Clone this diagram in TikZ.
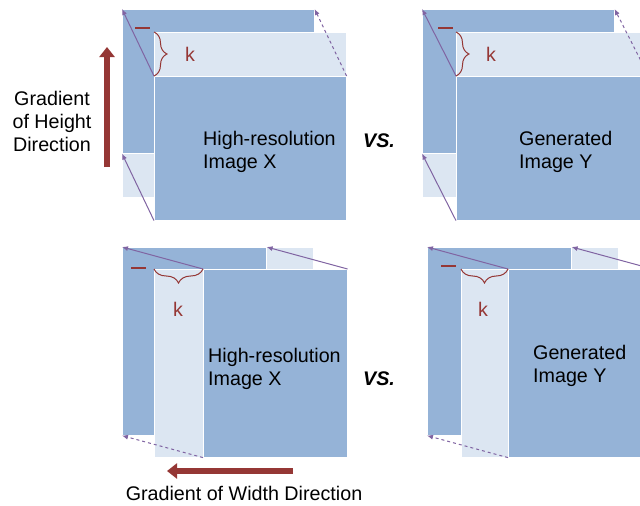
\documentclass[tikz,border=0pt]{standalone}
\usepackage{fontspec}
\setmainfont{Liberation Sans}
\usetikzlibrary{arrows.meta,decorations.pathreplacing}
\definecolor{imgblue}{RGB}{149,179,215}
\definecolor{imglight}{RGB}{220,230,242}
\definecolor{shiftpurple}{RGB}{128,100,162}
\definecolor{gradred}{RGB}{149,55,53}

\begin{document}
\begin{tikzpicture}[
    x=1pt, y=-1pt,
    every node/.style={font=\fontsize{19.7}{23}\selectfont},
    imgbox/.style={rectangle, anchor=north west, inner sep=0pt, draw=white, line width=0.6pt, fill=imgblue},
    shiftbox/.style={imgbox, fill=imglight},
    topsize/.style={minimum width=192pt, minimum height=144pt},
    botsize/.style={minimum width=144pt, minimum height=188pt},
    caption/.style={inner sep=0pt, anchor=west, align=left},
    kbrace/.style={decorate, decoration={brace, amplitude=#1}, draw=gradred, line width=1pt},
    klabel/.style={text=gradred, inner sep=0pt},
    shiftarrow/.style={draw=shiftpurple, line width=1pt, -{Latex[length=6pt,width=5pt]}},
    gradarrow/.style={draw=gradred, line width=6pt, -{Triangle[width=15pt,length=10pt]}}
]
\useasboundingbox (0,0) rectangle (640,506);
\clip (0,0) rectangle (640,506);

% Height direction, image X
\node[shiftbox, topsize] (hxlow) at (122,53) {};
\node[imgbox, topsize] (hxback) at (122,9) {};
\node[shiftbox, topsize] (hxup) at (154,32) {};
\node[imgbox, topsize] (hxfront) at (154,76) {};
\node[caption] (hxtext) at (203,152) {High-resolution\\Image X};

% Height direction, image Y
\node[shiftbox, topsize] (hylow) at (422,53) {};
\node[imgbox, topsize] (hyback) at (422,9) {};
\node[shiftbox, topsize] (hyup) at (456,32) {};
\node[imgbox, topsize] (hyfront) at (456,76) {};
\node[caption] (hytext) at (519,152) {Generated\\Image Y};

% Width direction, image X
\node[shiftbox, botsize] (wxright) at (169,247) {};
\node[imgbox, botsize] (wxback) at (122,247) {};
\node[shiftbox, botsize] (wxleft) at (154,269) {};
\node[imgbox, botsize] (wxfront) at (203,269) {};
\node[caption] (wxtext) at (208,369) {High-resolution\\Image X};

% Width direction, image Y
\node[shiftbox, botsize] (wyright) at (474,247) {};
\node[imgbox, botsize] (wyback) at (427,247) {};
\node[shiftbox, botsize] (wyleft) at (461,269) {};
\node[imgbox, botsize] (wyfront) at (508,269) {};
\node[caption] (wytext) at (533,366) {Generated\\Image Y};

% Shift arrows
\draw[shiftarrow] (hxfront.north west) -- (hxback.north west);
\draw[shiftarrow, dashed] (hxfront.north east) -- (hxback.north east);
\draw[shiftarrow] (hxfront.south west) -- (hxback.south west);
\draw[shiftarrow] (hyfront.north west) -- (hyback.north west);
\draw[shiftarrow, dashed] (hyfront.north east) -- (hyback.north east);
\draw[shiftarrow] (hyfront.south west) -- (hyback.south west);
\draw[shiftarrow] (wxfront.north west) -- (wxback.north west);
\draw[shiftarrow] (wxfront.north east) -- (wxback.north east);
\draw[shiftarrow, dashed] (wxfront.south west) -- (wxback.south west);
\draw[shiftarrow] (wyfront.north west) -- (wyback.north west);
\draw[shiftarrow] (wyfront.north east) -- (wyback.north east);
\draw[shiftarrow, dashed] (wyfront.south west) -- (wyback.south west);

% Minus signs and k braces
\draw[gradred, line width=1.5pt] (135,28) -- (150,28);
\draw[gradred, line width=1.5pt] (438,28) -- (453,28);
\draw[gradred, line width=1.5pt] (131,268) -- (146,268);
\draw[gradred, line width=1.5pt] (441,266) -- (456,266);
\draw[kbrace=13pt] (hxup.north west) -- (hxfront.north west);
\draw[kbrace=13pt] (hyup.north west) -- (hyfront.north west);
\draw[kbrace=14pt] (wxfront.north west) -- (wxleft.north west);
\draw[kbrace=14pt] (wyfront.north west) -- (wyleft.north west);
\node[klabel] (hxk) at (190,54) {k};
\node[klabel] (hyk) at (491,54) {k};
\node[klabel] (wxk) at (178,309) {k};
\node[klabel] (wyk) at (483,309) {k};

% VS. labels
\node[font=\fontsize{19.7}{23}\selectfont\bfseries\itshape] (vstop) at (379,141) {VS.};
\node[font=\fontsize{19.7}{23}\selectfont\bfseries\itshape] (vsbot) at (379,379) {VS.};

% Gradient directions
\coordinate (htail) at (107,167);
\coordinate (htip) at (107,47);
\coordinate (wtail) at (293,471);
\coordinate (wtip) at (167,471);
\draw[gradarrow] (htail) -- (htip);
\draw[gradarrow] (wtail) -- (wtip);
\node[align=center, inner sep=0pt] (hlabel) at (52,121) {Gradient\\of Height\\Direction};
\node[inner sep=0pt] (wlabel) at (244,493) {Gradient of Width Direction};

\end{tikzpicture}
\end{document}
